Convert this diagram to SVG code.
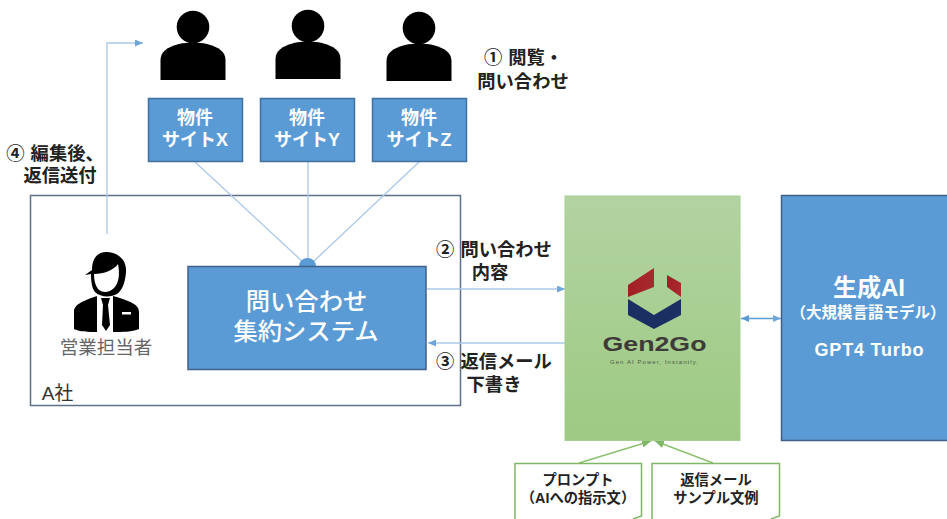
<svg xmlns="http://www.w3.org/2000/svg" width="947" height="519" viewBox="0 0 947 519">
<style>
text{font-family:"Liberation Sans","Noto Sans CJK JP",sans-serif;text-anchor:middle}
.w{fill:#fff}.k{fill:#222;font-weight:700;font-size:18.300px}
.site{fill:#5b9bd5;stroke:#41719c;stroke-width:1.5}
.site-t{fill:#fff;font-size:18px;font-weight:700}
.c{fill:none;stroke:#a9c8e8;stroke-width:1.3}
.g{fill:none;stroke:#8cc16f;stroke-width:1.6}
.note{fill:#fff;stroke:#7fb865;stroke-width:1.5}
.nt{fill:#222;font-size:14.300px;font-weight:700}
</style>
<defs>
<marker id="a" markerWidth="10" markerHeight="8" refX="8" refY="3.500" orient="auto" markerUnits="userSpaceOnUse"><path d="M0 0L8 3.500L0 7z" fill="#6ea6da"/></marker>
<marker id="as" markerWidth="10" markerHeight="8" refX="0" refY="3.500" orient="auto" markerUnits="userSpaceOnUse"><path d="M8 0L0 3.500L8 7z" fill="#5b9bd5"/></marker>
<marker id="ag" markerWidth="12" markerHeight="10" refX="9" refY="4" orient="auto" markerUnits="userSpaceOnUse"><path d="M0 0L9 4L0 8z" fill="#7fb865"/></marker>
<linearGradient id="gr" x1="0" y1="0" x2="0" y2="1"><stop offset="0" stop-color="#b3d3a2"/><stop offset="1" stop-color="#9dca82"/></linearGradient>
<linearGradient id="red" x1="0" y1="0" x2="1" y2="0"><stop offset="0" stop-color="#a01f25"/><stop offset="1" stop-color="#a82a2e"/></linearGradient>
<path id="person" d="M-32.500 80V60C-32.500 52-26 47-14 44C-5 42 5 42 14 44C26 47 32.500 52 32.500 60V80z"/>
</defs>

<g id="company"><rect x="30.500" y="195.500" width="430" height="210" fill="#fff" stroke="#5a7188" stroke-width="1.500"/><text x="57.500" y="400" font-size="19" fill="#333">A社</text></g>

<g id="connectors">
<path class="c" d="M107 234V43H143" marker-end="url(#a)"/>
<path class="c" d="M195 162L303 262M308 162V262M419 162L313 262"/>
<path d="M299 266a8.500 8 0 0 1 17 0z" fill="#5b9bd5"/>
<path class="c" d="M427 289H565" marker-end="url(#a)"/>
<path class="c" d="M565 343H428" marker-end="url(#a)"/>
<path d="M741 318.500H781" fill="none" stroke="#5b9bd5" stroke-width="1.300" marker-start="url(#as)" marker-end="url(#a)"/>
<path class="g" d="M579 463L651 441" marker-end="url(#ag)"/>
<path class="g" d="M713 463L655 441" marker-end="url(#ag)"/>
</g>

<g id="user-x" transform="translate(193 0)"><circle cy="27" r="16.300"/><use href="#person"/></g>
<g id="user-y" transform="translate(308 -1)"><circle cy="27" r="16.300"/><use href="#person"/></g>
<g id="user-z" transform="translate(419 1)"><circle cy="27" r="16.300"/><use href="#person"/></g>

<g id="site-x"><rect class="site" x="148.500" y="98.500" width="94" height="63"/><text class="site-t" x="195" y="124">物件</text><text class="site-t" x="195" y="146">サイトX</text></g>
<g id="site-y"><rect class="site" x="260.500" y="98.500" width="94" height="63"/><text class="site-t" x="307" y="124">物件</text><text class="site-t" x="307" y="146">サイトY</text></g>
<g id="site-z"><rect class="site" x="372.500" y="98.500" width="94" height="63"/><text class="site-t" x="419" y="124">物件</text><text class="site-t" x="419" y="146">サイトZ</text></g>

<g id="sales">
<path d="M85 275L92 270C92 258 98 252 106 252C118 252 127 260 126 272C125 284 122 290 117 294C110 298 100 297 95 292C92 288 91 282 91 274z"/>
<path d="M94 274C104 274 114 270 118 264C120 274 119 283 114 288C109 293 102 293 98 289C95 285 94 280 94 274z" fill="#fff"/>
<path d="M97 293V332C88 332 80 332 74 329V312C74 305 80 302 97 296z"/>
<path d="M113 293V332C122 332 132 332 139 329V312C139 305 133 302 113 296z"/>
<path d="M101 298H110L108 305L110 325L106 331L102 325L103 305z"/>
<rect x="122" y="312" width="9" height="2.500" fill="#fff"/>
<text x="106" y="354" font-size="18.500" fill="#666">営業担当者</text>
</g>

<g id="system"><rect x="188" y="266.500" width="238" height="103" fill="#5b9bd5" stroke="#41608a" stroke-width="1.500"/>
<text class="w" x="306.500" y="310" font-size="24.300" font-weight="500">問い合わせ</text><text class="w" x="306" y="340" font-size="24.300" font-weight="500">集約システム</text></g>

<g id="gen2go"><rect x="565" y="196" width="175" height="244.500" fill="url(#gr)" stroke="#a5cf8e"/>
<path d="M628 297V285L654 268V287z" fill="url(#red)"/>
<path d="M667 275L681 283V297L667 287z" fill="url(#red)"/>
<path d="M628 299L654 315L681 299V315L654 329L628 315z" fill="#1b2f63"/>
<text x="654.500" y="351" font-size="21" font-weight="700" fill="#3d3a38" font-family="'DejaVu Sans',sans-serif" textLength="104" lengthAdjust="spacingAndGlyphs">Gen2Go</text>
<text x="654" y="364" font-size="6" fill="#4a5a45" textLength="88">Gen AI Power, Instantly.</text></g>

<g id="genai"><rect x="781.500" y="195.500" width="170" height="245" fill="#5b9bd5" stroke="#41608a" stroke-width="1.500"/>
<text class="w" x="869" y="296" font-size="24" font-weight="700">生成AI</text>
<text class="w" x="868" y="318" font-size="15.500" font-weight="700">（大規模言語モデル）</text>
<text class="w" x="869" y="356" font-size="18" font-weight="700" textLength="109">GPT4 Turbo</text></g>

<g id="note-prompt"><path class="note" d="M515 519V463.500H641.500V516L633 519"/><text class="nt" x="578" y="485">プロンプト</text><text class="nt" x="578" y="503">（AIへの指示文）</text></g>
<g id="note-sample"><path class="note" d="M652 519V463.500H779.500V516L771 519"/><text class="nt" x="716" y="485">返信メール</text><text class="nt" x="716" y="503">サンプル文例</text></g>

<g id="labels">
<text class="k" x="523.500" y="64" word-spacing="1">① 閲覧・</text><text class="k" x="523" y="88">問い合わせ</text>
<text class="k" x="55" y="160" word-spacing="1">④ 編集後、</text><text class="k" x="60" y="182">返信送付</text>
<text class="k" x="494" y="256" word-spacing="1">② 問い合わせ</text><text class="k" x="490" y="279">内容</text>
<text class="k" x="494" y="368" word-spacing="1">③ 返信メール</text><text class="k" x="494" y="391">下書き</text>
</g>
</svg>
